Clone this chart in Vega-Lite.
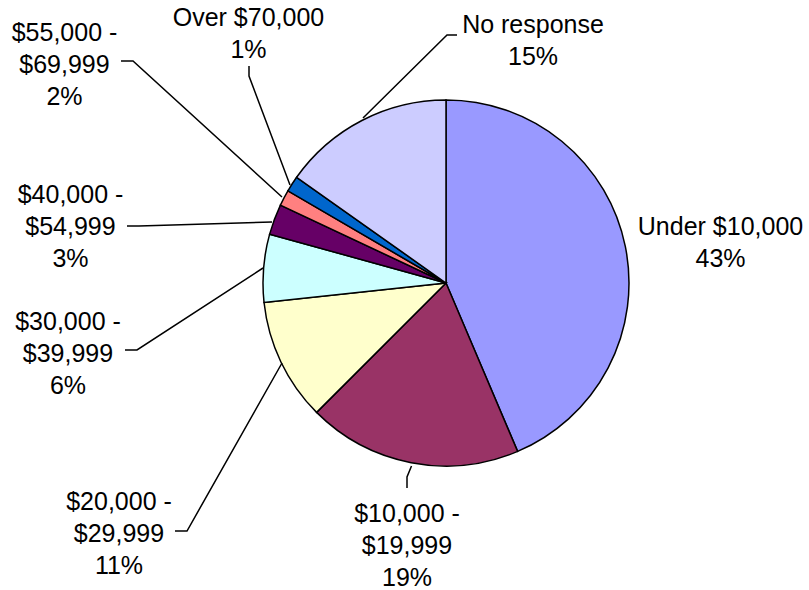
{
  "$schema": "https://vega.github.io/schema/vega-lite/v6.json",
  "autosize": {"type": "none"},
  "width": 726,
  "height": 566,
  "padding": {"left": 83, "top": 0, "right": 0, "bottom": 24},
  "background": "white",
  "config": {"view": {"stroke": null}},
  "datasets": {
    "slices": [
      {"idx": 1, "category": "Under $10,000", "share": 43.6},
      {"idx": 2, "category": "$10,000 - $19,999", "share": 18.9},
      {"idx": 3, "category": "$20,000 - $29,999", "share": 10.8},
      {"idx": 4, "category": "$30,000 - $39,999", "share": 6.0},
      {"idx": 5, "category": "$40,000 - $54,999", "share": 2.7},
      {"idx": 6, "category": "$55,000 - $69,999", "share": 1.4},
      {"idx": 7, "category": "Over $70,000", "share": 1.4},
      {"idx": 8, "category": "No response", "share": 15.2}
    ],
    "leaders": [
      {"g": "55k", "s": 1, "lx": -325, "ly": 222},
      {"g": "55k", "s": 2, "lx": -313, "ly": 222},
      {"g": "55k", "s": 3, "lx": -164, "ly": 86},
      {"g": "70k", "s": 1, "lx": -197, "ly": 217},
      {"g": "70k", "s": 2, "lx": -197, "ly": 207},
      {"g": "70k", "s": 3, "lx": -156, "ly": 98},
      {"g": "nr", "s": 1, "lx": 11, "ly": 248},
      {"g": "nr", "s": 2, "lx": 1, "ly": 248},
      {"g": "nr", "s": 3, "lx": -83, "ly": 165},
      {"g": "40k", "s": 1, "lx": -319, "ly": 57},
      {"g": "40k", "s": 2, "lx": -307, "ly": 57},
      {"g": "40k", "s": 3, "lx": -174, "ly": 61},
      {"g": "30k", "s": 1, "lx": -321, "ly": -67},
      {"g": "30k", "s": 2, "lx": -309, "ly": -67},
      {"g": "30k", "s": 3, "lx": -183, "ly": 15},
      {"g": "20k", "s": 1, "lx": -271, "ly": -248},
      {"g": "20k", "s": 2, "lx": -259, "ly": -248},
      {"g": "20k", "s": 3, "lx": -164, "ly": -80},
      {"g": "10k", "s": 1, "lx": -39, "ly": -205},
      {"g": "10k", "s": 2, "lx": -39, "ly": -194},
      {"g": "10k", "s": 3, "lx": -34.5, "ly": -183}
    ],
    "labels": [
      {"t": "Under $10,000\n43%", "lx": 274.5, "ly": 56},
      {"t": "No response\n15%", "lx": 87, "ly": 258},
      {"t": "Over $70,000\n1%", "lx": -197.5, "ly": 265},
      {"t": "$55,000 -\n$69,999\n2%", "lx": -381.5, "ly": 250},
      {"t": "$40,000 -\n$54,999\n3%", "lx": -375.5, "ly": 88},
      {"t": "$30,000 -\n$39,999\n6%", "lx": -378, "ly": -39},
      {"t": "$20,000 -\n$29,999\n11%", "lx": -327, "ly": -219},
      {"t": "$10,000 -\n$19,999\n19%", "lx": -39, "ly": -231}
    ]
  },
  "layer": [
    {
      "data": {"name": "slices"},
      "mark": {"type": "arc", "outerRadius": 183, "stroke": "black", "strokeWidth": 1.5},
      "encoding": {
        "theta": {"field": "share", "type": "quantitative", "stack": true},
        "order": {"field": "idx", "type": "quantitative"},
        "color": {
          "field": "category",
          "type": "nominal",
          "legend": null,
          "scale": {
            "domain": ["Under $10,000", "$10,000 - $19,999", "$20,000 - $29,999", "$30,000 - $39,999", "$40,000 - $54,999", "$55,000 - $69,999", "Over $70,000", "No response"],
            "range": ["#9999FF", "#993366", "#FFFFCC", "#CCFFFF", "#660066", "#FF8080", "#0066CC", "#CCCCFF"]
          }
        }
      }
    },
    {
      "data": {"name": "leaders"},
      "mark": {"type": "line", "stroke": "black", "strokeWidth": 1.5},
      "encoding": {
        "x": {"field": "lx", "type": "quantitative", "axis": null, "scale": {"domain": [-363, 363], "nice": false, "zero": false}},
        "y": {"field": "ly", "type": "quantitative", "axis": null, "scale": {"domain": [-283, 283], "nice": false, "zero": false}},
        "detail": {"field": "g", "type": "nominal"},
        "order": {"field": "s", "type": "quantitative"}
      }
    },
    {
      "data": {"name": "labels"},
      "mark": {"type": "text", "font": "Liberation Sans", "fontSize": 25, "lineHeight": 32, "lineBreak": "\n", "align": "center", "baseline": "middle", "color": "black"},
      "encoding": {
        "x": {"field": "lx", "type": "quantitative", "axis": null, "scale": {"domain": [-363, 363], "nice": false, "zero": false}},
        "y": {"field": "ly", "type": "quantitative", "axis": null, "scale": {"domain": [-283, 283], "nice": false, "zero": false}},
        "text": {"field": "t", "type": "nominal"}
      }
    }
  ]
}
